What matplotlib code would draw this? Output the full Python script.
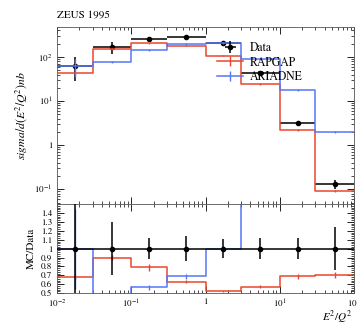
import matplotlib
matplotlib.use('Agg')
import matplotlib.pyplot as plt
import numpy as np
from matplotlib.ticker import FuncFormatter, LogLocator, MultipleLocator

plt.rcParams['font.family'] = ['STIXGeneral', 'DejaVu Serif']
plt.rcParams['mathtext.fontset'] = 'stix'

# bin edges in E^2/Q^2
edges = [0.01, 0.03, 0.1, 0.3, 1, 3, 10, 30, 100]

# ZEUS 1995 data and relative errors
data = [63, 169, 257, 284, 208, 43, 3.2, 0.13]
data_rel_err = [0.55, 0.30, 0.12, 0.14, 0.11, 0.12, 0.12, 0.24]

# MC predictions
rapgap = [43, 152, 203, 179, 108, 24.5, 2.2, 0.092]
rapgap_rel_err = [0.03, 0.03, 0.05, 0.03, 0.02, 0.03, 0.04, 0.05]
ariadne = [63, 77, 146, 196, 208, 90, 17.8, 2.0]
ariadne_rel_err = [0.45, 0.05, 0.05, 0.04, 0.03, 0.03, 0.04, 0.05]

red = '#e8472b'
blue = '#5577f5'

edges = np.array(edges)
centres = np.sqrt(edges[:-1] * edges[1:])
xlo = centres - edges[:-1]
xhi = edges[1:] - centres
data = np.array(data)
d_err = data * np.array(data_rel_err)


def step(ax, vals, color, zorder):
    y = np.append(vals, vals[-1])
    ax.step(edges, y, where='post', color=color, lw=1.1, zorder=zorder)


def logfmt(v, pos):
    e = int(round(np.log10(v)))
    if e == 0:
        return '1'
    return r'$10^{%d}$' % e


fig = plt.figure(figsize=(3.57, 3.25), dpi=100)
ax = fig.add_axes([0.16, 0.372, 0.832, 0.545])
rax = fig.add_axes([0.16, 0.098, 0.832, 0.274], sharex=ax)

# main panel
handles = []
h = ax.errorbar(centres, data, yerr=d_err, xerr=[xlo, xhi], fmt='o', color='black',
                ms=3, lw=1.1, capsize=0, zorder=3)
handles.append(h)
for vals, rel, col, name in [(rapgap, rapgap_rel_err, red, 'RAPGAP'),
                             (ariadne, ariadne_rel_err, blue, 'ARIADNE')]:
    vals = np.array(vals)
    step(ax, vals, col, 4)
    ax.errorbar(centres, vals, yerr=vals * np.array(rel), fmt='none', ecolor=col,
                lw=1.0, zorder=4)
    h, = ax.plot([], [], color=col, lw=1.1, marker='|', ms=7, mew=1.0)
    handles.append(h)

ax.set_xscale('log')
ax.set_yscale('log')
ax.set_xlim(0.01, 100)
ax.set_ylim(0.046, 480)
ax.set_ylabel(r'$sigma/d(E^2/Q^2)nb$', fontsize=8.5)
ax.yaxis.set_major_formatter(FuncFormatter(logfmt))
ax.tick_params(labelbottom=False)
ax.text(0.0, 1.045, 'ZEUS 1995', transform=ax.transAxes, fontsize=8, va='bottom')
ax.legend(handles, ['Data', 'RAPGAP', 'ARIADNE'], loc='upper left',
          bbox_to_anchor=(0.52, 0.945), frameon=False, fontsize=8.5,
          handlelength=2.2, handletextpad=0.5, labelspacing=0.2, borderpad=0)

# ratio panel
ones = np.ones(len(data))
for vals, rel, col in [(rapgap, rapgap_rel_err, red), (ariadne, ariadne_rel_err, blue)]:
    vals = np.array(vals)
    r = vals / data
    step(rax, r, col, 2)
    rax.errorbar(centres, r, yerr=r * np.array(rel), fmt='none', ecolor=col,
                 lw=1.0, zorder=2)
rax.errorbar(centres, ones, yerr=np.array(data_rel_err), xerr=[xlo, xhi], fmt='o',
             color='black', ms=3, lw=1.1, capsize=0, zorder=3)
rax.set_ylim(0.5, 1.5)
rax.set_yticks([0.5, 0.6, 0.7, 0.8, 0.9, 1.0, 1.1, 1.2, 1.3, 1.4])
rax.set_yticklabels(['0.5', '0.6', '0.7', '0.8', '0.9', '1', '1.1', '1.2', '1.3', '1.4'])
rax.yaxis.set_minor_locator(MultipleLocator(0.02))
rax.set_ylabel('MC/Data', fontsize=8)
rax.xaxis.set_major_formatter(FuncFormatter(logfmt))
rax.text(0.995, -0.27, r'$E^2/Q^2$', transform=rax.transAxes, ha='right',
         va='center', fontsize=8)

for a in (ax, rax):
    a.tick_params(which='both', direction='in', top=True, right=True, labelsize=6.5)
    a.tick_params(which='major', length=5, width=0.6)
    a.tick_params(which='minor', length=2.5, width=0.5)
    a.xaxis.set_minor_locator(LogLocator(base=10, subs=np.arange(2, 10)))
    for s in a.spines.values():
        s.set_linewidth(0.6)
        s.set_color('#555555')
ax.yaxis.set_minor_locator(LogLocator(base=10, subs=np.arange(2, 10)))

fig.savefig('out.png', dpi=100)
